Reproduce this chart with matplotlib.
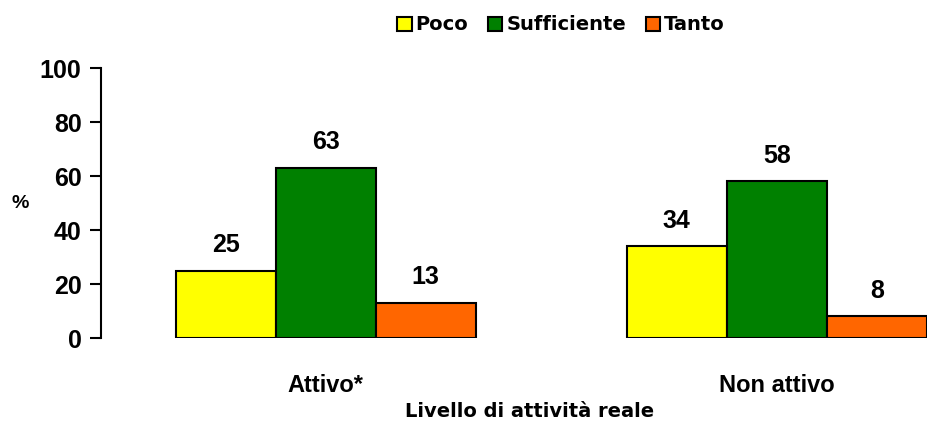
import matplotlib
matplotlib.use("Agg")
import matplotlib.pyplot as plt
import numpy as np

categories = ["Attivo*", "Non attivo"]
series = ["Poco", "Sufficiente", "Tanto"]
poco = [25, 34]
sufficiente = [63, 58]
tanto = [13, 8]
colors = ["#FFFF00", "#008000", "#FF6600"]
yticks = [0, 20, 40, 60, 80, 100]

plt.rcParams['font.family'] = ['Liberation Sans', 'DejaVu Sans']
plt.rcParams['font.weight'] = 'bold'

fig = plt.figure(figsize=(9.28, 4.23), dpi=100)
ax = fig.add_axes([101/928, 1-338/423, 1-101/928, 270/423])

x = np.arange(len(categories))
w = 100/451
vals = [poco, sufficiente, tanto]
for i, (name, v, c) in enumerate(zip(series, vals, colors)):
    bars = ax.bar(x + (i-1)*w, v, w, color=c, edgecolor='black', linewidth=1.5, label=name)
    for b, val in zip(bars, v):
        ax.text(b.get_x()+b.get_width()/2, val+5, f"{val}", ha='center', va='bottom',
                fontsize=18, fontweight='bold')

ax.set_xlim(-0.5 + 1/451, 1 + 151/451)
ax.set_ylim(0, 100)
ax.set_yticks(yticks)
ax.set_yticklabels([str(t) for t in yticks], fontsize=18, fontweight='bold')
ax.tick_params(axis='y', direction='out', length=8, width=1.5, pad=6)
ax.set_xticks(x)
ax.set_xticklabels(categories, fontsize=17, fontweight='bold')
ax.tick_params(axis='x', length=0, pad=26)
for s in ['top', 'right', 'bottom']:
    ax.spines[s].set_visible(False)
ax.spines['left'].set_linewidth(1.5)
fig.text(530/928, 1-411/423, "Livello di attività reale", fontsize=14, fontweight='bold',
         family='DejaVu Sans', ha='center', va='center')
fig.text(20/928, 1-203/423, "%", fontsize=14, fontweight='bold', ha='center', va='center')

leg = fig.legend(loc='center', bbox_to_anchor=(561/928, 1-25/423), ncol=3, frameon=False,
                 handlelength=0.75, handleheight=0.75, handletextpad=0.2,
                 columnspacing=1.0, borderaxespad=0,
                 prop={'weight': 'bold', 'size': 14, 'family': 'DejaVu Sans'})
for p in leg.get_patches():
    p.set_linewidth(1.5)

fig.savefig("out.png", dpi=100)
